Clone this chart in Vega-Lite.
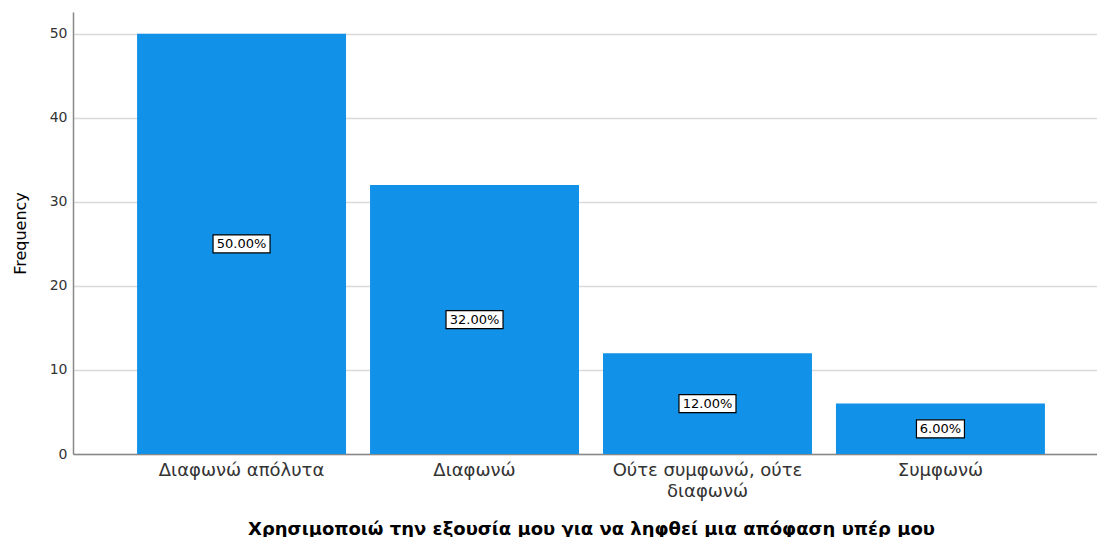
{
  "$schema": "https://vega.github.io/schema/vega-lite/v6.json",
  "width": 1024,
  "height": 442,
  "autosize": "none",
  "padding": {"left": 73, "top": 12, "right": 0, "bottom": 83},
  "background": "white",
  "config": {"view": {"stroke": null}, "font": "DejaVu Sans"},
  "data": {"values": [
    {"category": "Διαφωνώ απόλυτα", "frequency": 50, "pct": 50, "label": "50.00%"},
    {"category": "Διαφωνώ", "frequency": 32, "pct": 32, "label": "32.00%"},
    {"category": "Ούτε συμφωνώ, ούτε διαφωνώ", "frequency": 12, "pct": 12, "label": "12.00%"},
    {"category": "Συμφωνώ", "frequency": 6, "pct": 6, "label": "6.00%"}
  ]},
  "encoding": {
    "x": {
      "field": "category", "type": "nominal", "sort": null,
      "scale": {"range": [0, 1036], "paddingInner": 0.103, "paddingOuter": 0.275},
      "axis": {
        "title": "Χρησιμοποιώ την εξουσία μου για να ληφθεί μια απόφαση υπέρ μου",
        "titleFont": "DejaVu Sans", "titleFontSize": 18, "titleFontWeight": "bold", "titleColor": "#000000",
        "titleY": 80, "titleBaseline": "alphabetic",
        "labelAngle": 0, "labelFontSize": 18, "labelColor": "#333333", "labelPadding": 7,
        "labelLimit": 0, "labelLineHeight": 21,
        "labelExpr": "datum.label == 'Ούτε συμφωνώ, ούτε διαφωνώ' ? ['Ούτε συμφωνώ, ούτε', 'διαφωνώ'] : datum.label",
        "ticks": false, "domainColor": "#888888", "domainWidth": 1.5, "grid": false
      }
    }
  },
  "layer": [
    {
      "mark": {"type": "bar", "color": "#1192e8"},
      "encoding": {
        "y": {
          "field": "frequency", "type": "quantitative",
          "scale": {"domain": [0, 52.6], "nice": false},
          "axis": {
            "title": "Frequency", "titleFontSize": 16, "titleFontWeight": 500, "titleColor": "#000000",
            "titleX": -53, "titleBaseline": "middle",
            "values": [0, 10, 20, 30, 40, 50],
            "labelFontSize": 14, "labelColor": "#333333", "labelPadding": 6,
            "ticks": false, "domainColor": "#888888", "domainWidth": 1.5,
            "grid": true, "gridColor": "#d9d9d9", "gridWidth": 1.5
          }
        }
      }
    },
    {
      "transform": [{"calculate": "datum.frequency / 2", "as": "mid"}],
      "mark": {"type": "point", "filled": true, "fill": "white", "stroke": "#000000", "strokeWidth": 1.2, "opacity": 1},
      "encoding": {
        "y": {"field": "mid", "type": "quantitative"},
        "shape": {"condition": {"test": "datum.pct < 10", "value": "M-1,-0.375H1V0.375H-1Z"}, "value": "M-1,-0.316H1V0.316H-1Z"},
        "size": {"condition": {"test": "datum.pct < 10", "value": 2304}, "value": 3249}
      }
    },
    {
      "transform": [{"calculate": "datum.frequency / 2", "as": "mid"}],
      "mark": {"type": "text", "fontSize": 13, "color": "#000000", "baseline": "middle", "align": "center"},
      "encoding": {
        "y": {"field": "mid", "type": "quantitative"},
        "text": {"field": "label"}
      }
    }
  ]
}
